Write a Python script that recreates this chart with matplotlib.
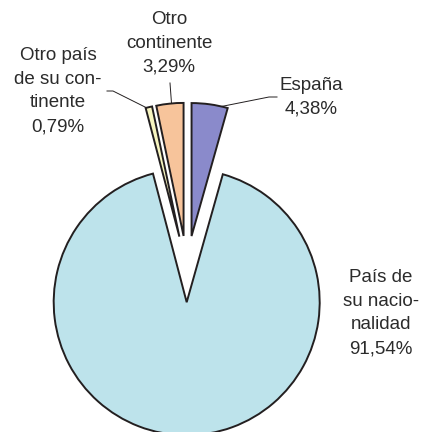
import numpy as np
import matplotlib.pyplot as plt

# slices, clockwise from 12 o'clock
labels = ['España', 'País de su nacionalidad', 'Otro país de su continente', 'Otro continente']
values = [4.38, 91.54, 0.79, 3.29]
colors = ['#8a8acb', '#bde3eb', '#f7f5c0', '#f7c49b']
explode = [0.25, 0.25, 0.25, 0.25]

label_texts = ['España\n4,38%',
               'País de\nsu nacio-\nnalidad\n91,54%',
               'Otro país\nde su con-\ntinente\n0,79%',
               'Otro\ncontinente\n3,29%']

W, H = 431, 432
CX, CY, R = 187, 269, 133   # pie centre / radius in image pixels


def px(x, y):
    """image pixel -> data coords"""
    return (x - CX) / R, (CY - y) / R


def edge(w, ang, r=1.0):
    a = np.deg2rad(ang)
    return w.center[0] + r * w.r * np.cos(a), w.center[1] + r * w.r * np.sin(a)


plt.rcParams['font.family'] = ['Liberation Sans', 'DejaVu Sans']

fig = plt.figure(figsize=(W / 100, H / 100), dpi=100)
ax = fig.add_axes([0, 0, 1, 1])

wedges, _ = ax.pie(values, colors=colors, explode=explode, startangle=90,
                   counterclock=False, radius=1,
                   wedgeprops=dict(edgecolor='#231f20', linewidth=1.4))

ax.set_xlim(-CX / R, (W - CX) / R)
ax.set_ylim(-(H - CY) / R, CY / R)
ax.set_aspect('equal')
ax.axis('off')

lc = '#231f20'
tc = '#2b2b2b'
fs = 13.5
ls = 1.52

# España
w = wedges[0]
x0, y0 = edge(w, 77)
x1, y1 = px(269, 97)
x2, y2 = px(277, 97)
ax.plot([x0, x1, x2], [y0, y1, y2], color=lc, lw=0.7)
ax.text(*px(311, 97), label_texts[0], ha='center', va='center', fontsize=fs,
        linespacing=ls, color=tc)

# País de su nacionalidad
ax.text(*px(381, 313), label_texts[1], ha='center', va='center', fontsize=fs,
        linespacing=ls, color=tc)

# Otro país de su continente
w = wedges[2]
x0, y0 = edge(w, 104.3)
x1, y1 = px(113, 91)
x2, y2 = px(107, 91)
ax.plot([x0, x1, x2], [y0, y1, y2], color=lc, lw=0.7)
ax.text(*px(58, 91), label_texts[2], ha='center', va='center', fontsize=fs,
        linespacing=ls, color=tc)

# Otro continente
w = wedges[3]
x0, y0 = edge(w, 95.2)
x1, y1 = px(170, 83)
ax.plot([x0, x1], [y0, y1], color=lc, lw=0.7)
ax.text(*px(169, 43), label_texts[3], ha='center', va='center', fontsize=fs,
        linespacing=ls, color=tc)

plt.savefig('out.png', dpi=100)
